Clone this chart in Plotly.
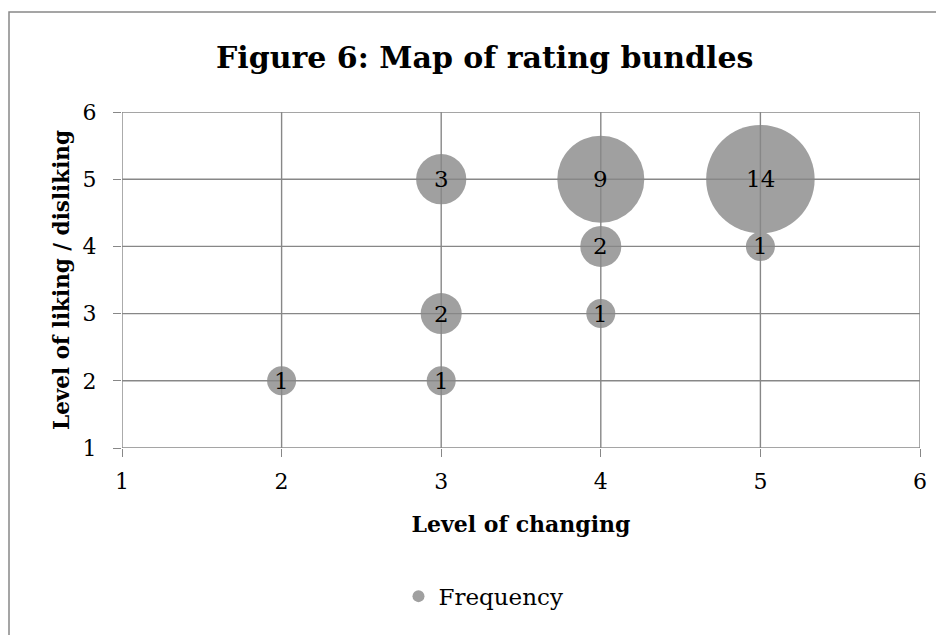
import plotly.graph_objects as go

changing = [2, 3, 3, 3, 4, 4, 4, 5, 5]
liking = [2, 2, 3, 5, 3, 4, 5, 4, 5]
frequency = [1, 1, 2, 3, 1, 2, 9, 1, 14]
ticks = [1, 2, 3, 4, 5, 6]

FONT = "DejaVu Serif"
GRID = "#878787"

fig = go.Figure()
fig.add_trace(go.Scatter(
    x=changing, y=liking, mode="markers",
    marker=dict(size=frequency, sizemode="area", sizeref=2 / (29 ** 2),
                color="#A0A0A0", line=dict(width=0), opacity=1),
    name="Frequency", showlegend=True, cliponaxis=False,
))

shapes = [dict(type="rect", xref="paper", yref="paper", x0=-0.1416, x1=1.06, y0=-0.6, y1=1.2976,
               line=dict(color="#888888", width=1.5), fillcolor="rgba(0,0,0,0)", layer="below")]
for t in ticks:
    shapes.append(dict(type="line", xref="x", yref="paper", x0=t, x1=t, y0=0, y1=1,
                       line=dict(color=GRID, width=1.4), layer="above"))
    shapes.append(dict(type="line", xref="paper", yref="y", x0=0, x1=1, y0=t, y1=t,
                       line=dict(color=GRID, width=1.4), layer="above"))

# data labels (drawn above the grid lines, like the reference)
annotations = [dict(x=cx, y=ly, xref="x", yref="y", text=str(f), showarrow=False,
                    font=dict(family=FONT, size=23, color="#000000"),
                    xanchor="center", yanchor="middle")
               for cx, ly, f in zip(changing, liking, frequency)]

fig.update_layout(
    width=944, height=635,
    margin=dict(l=114, r=32, t=104, b=195),
    paper_bgcolor="white", plot_bgcolor="white",
    font=dict(family=FONT, color="#000000", size=22),
    title=dict(text="<b>Figure 6: Map of rating bundles</b>", x=0.505, xanchor="center",
               y=1 - 49 / 635, yanchor="middle", xref="container", yref="container",
               font=dict(family=FONT, size=30, color="#000000")),
    xaxis=dict(range=[1, 6], tickvals=ticks, showgrid=False,
               zeroline=False, showline=False,
               ticks="outside", ticklen=8, tickcolor=GRID, tickwidth=1.4,
               tickfont=dict(family=FONT, size=22), ticklabelstandoff=6,
               title=dict(text="<b>Level of changing</b>", font=dict(family=FONT, size=22), standoff=23)),
    yaxis=dict(range=[1, 6], tickvals=ticks, showgrid=False,
               zeroline=False, showline=False,
               ticks="outside", ticklen=8, tickcolor=GRID, tickwidth=1.4,
               tickfont=dict(family=FONT, size=22), ticklabelstandoff=12,
               title=dict(text="<b>Level of liking / disliking</b>", font=dict(family=FONT, size=21.5), standoff=7)),
    legend=dict(orientation="h", x=0.453, xanchor="center", y=-0.441, yanchor="middle",
                font=dict(family=FONT, size=23), itemsizing="constant", itemwidth=30),
    showlegend=True,
    shapes=shapes,
    annotations=annotations,
)

fig.write_html("out.html")
